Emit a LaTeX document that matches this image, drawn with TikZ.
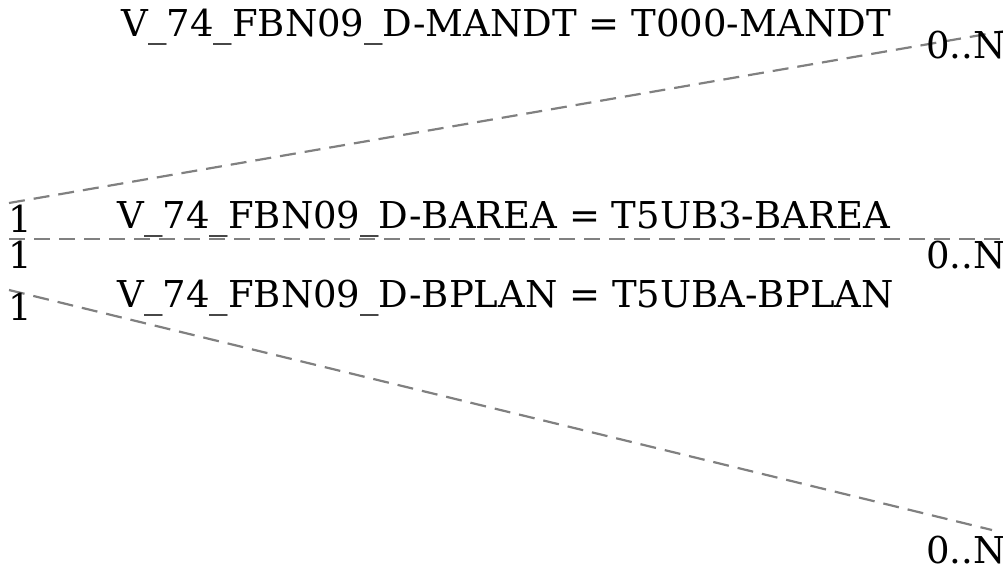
\documentclass[tikz,border=0pt]{standalone}
\usepackage{fontspec}
\setmainfont{DejaVu Serif}
\usetikzlibrary{positioning}

\begin{document}
\begin{tikzpicture}[x=0.5pt, y=-0.5pt, font=\fontsize{18.5}{22}\selectfont,
  rel/.style={draw=gray, line width=1.1pt, dash pattern=on 8pt off 4.5pt},
  card/.style={inner sep=0pt, anchor=base west},
  cond/.style={inner sep=0pt, anchor=base west}]
\useasboundingbox (0,0) rectangle (1003,569);
\clip (0,0) rectangle (1003,569);

% relation ends
\coordinate (mandt-from) at (9,203);
\coordinate (mandt-to) at (1010,30);
\coordinate (barea-from) at (9,239);
\coordinate (barea-to) at (1010,239);
\coordinate (bplan-from) at (9,290);
\coordinate (bplan-to) at (992,530);

\draw[rel] (mandt-from) -- (mandt-to);
\draw[rel] (barea-from) -- (barea-to);
\draw[rel] (bplan-from) -- (bplan-to);

% join conditions
\node[cond] (mandt) at (121,36) {V\_74\_FBN09\_D-MANDT = T000-MANDT};
\node[cond] (barea) at (117,228) {V\_74\_FBN09\_D-BAREA = T5UB3-BAREA};
\node[cond] (bplan) at (117,307) {V\_74\_FBN09\_D-BPLAN = T5UBA-BPLAN};

% cardinalities
\node[card] (mandt-one) at (8,232) {1};
\node[card] (barea-one) at (8,268) {1};
\node[card] (bplan-one) at (8,320) {1};
\node[card] (mandt-many) at (926,58) {0..N};
\node[card] (barea-many) at (926,268) {0..N};
\node[card] (bplan-many) at (926,563) {0..N};
\end{tikzpicture}
\end{document}
